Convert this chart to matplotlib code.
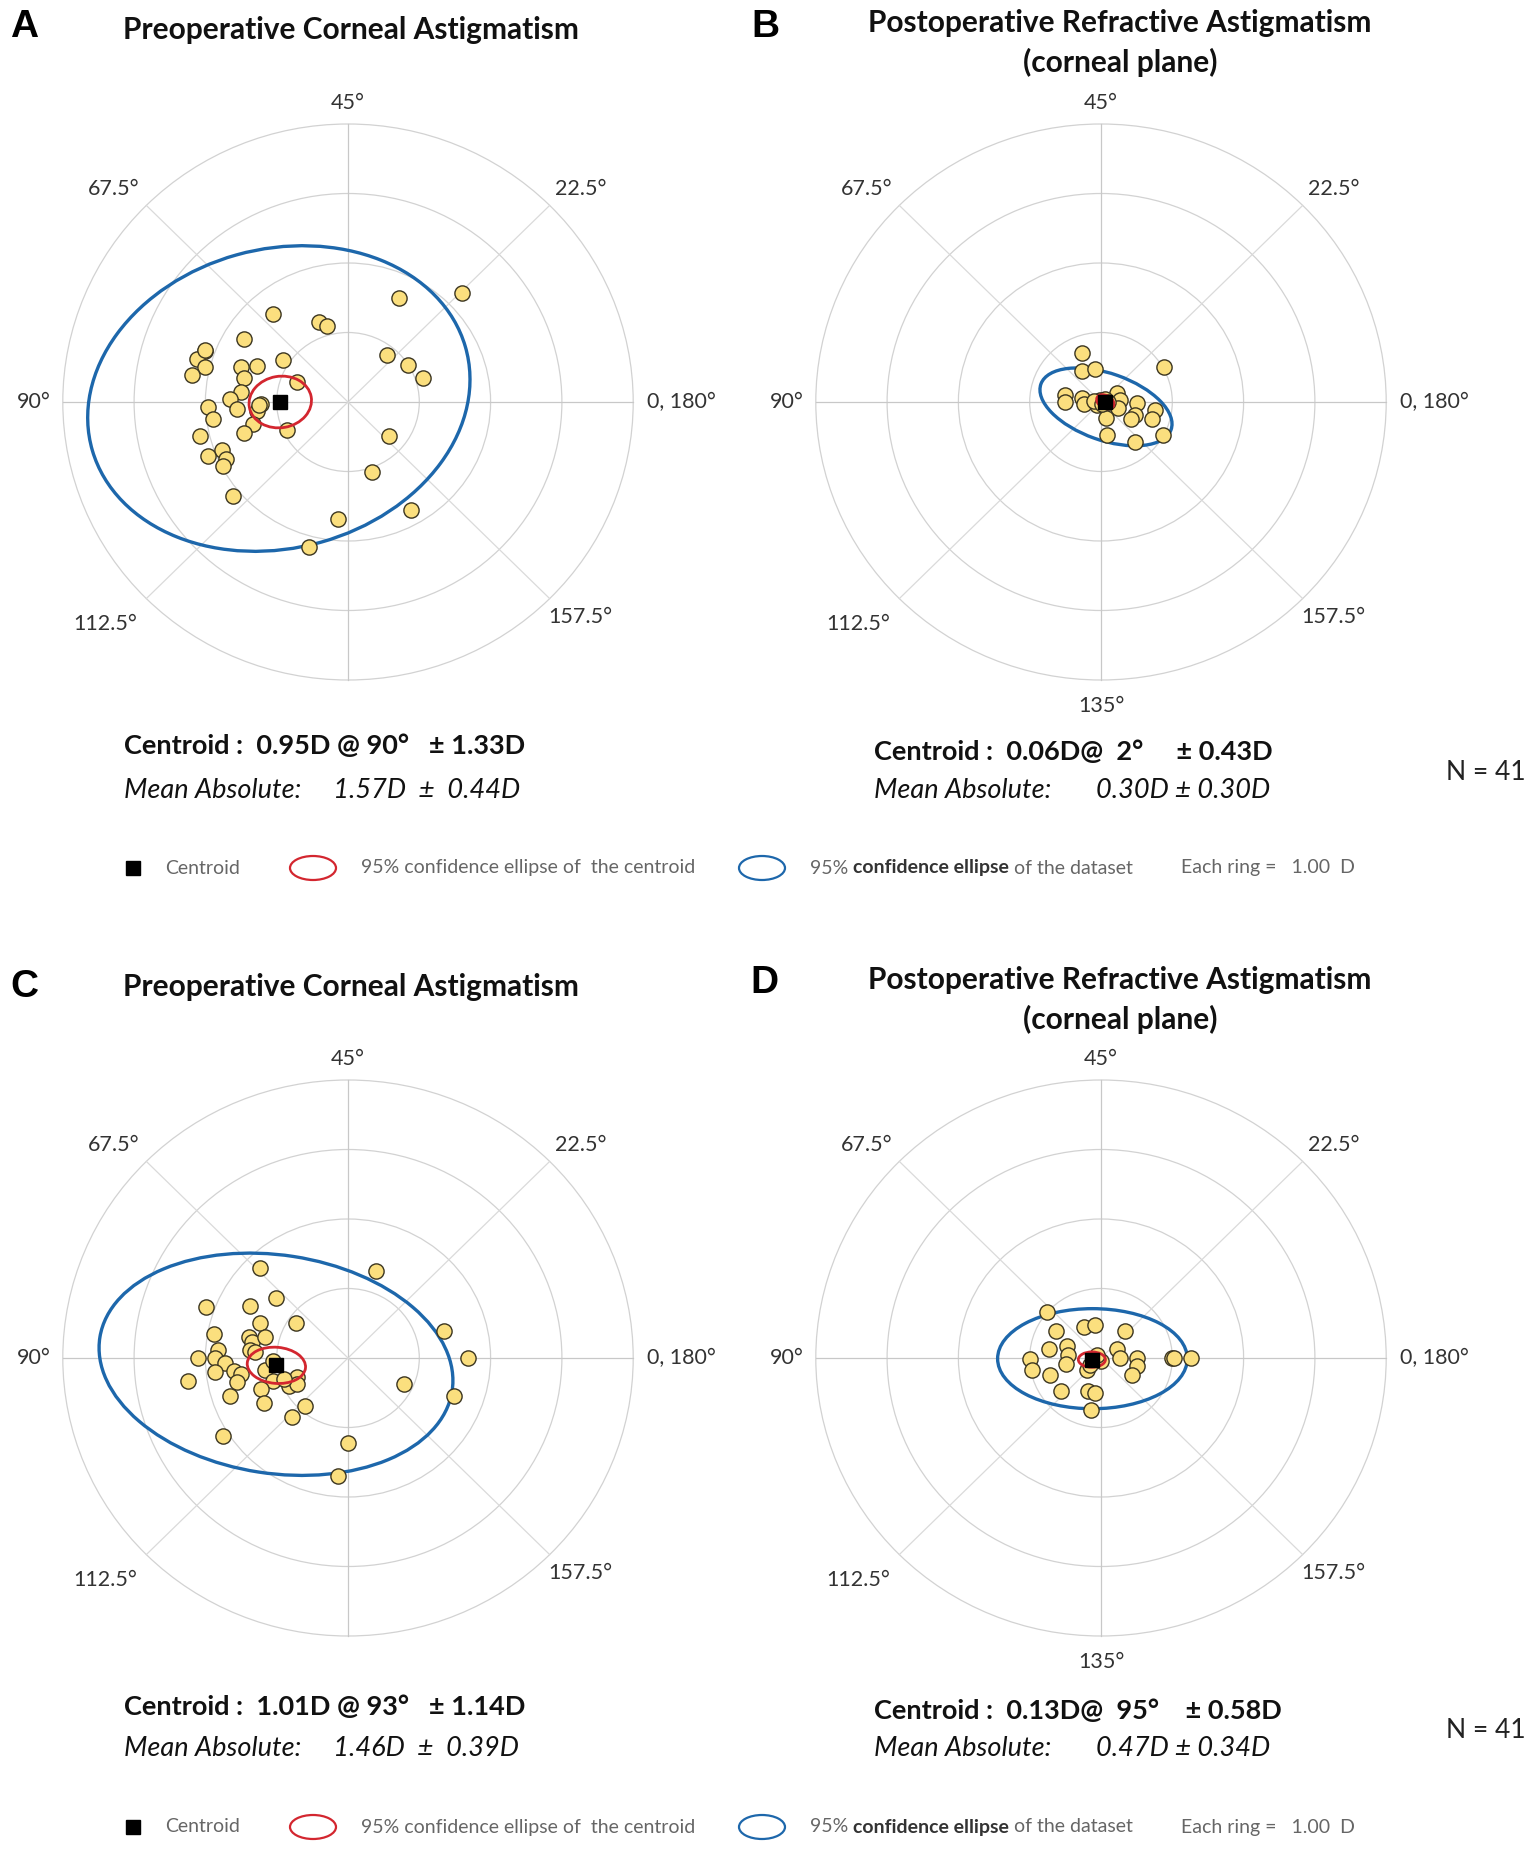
import numpy as np
import matplotlib
matplotlib.use("Agg")
import matplotlib.pyplot as plt
from matplotlib.patches import Ellipse, Circle

plt.rcParams["font.family"] = ["Lato", "DejaVu Sans"]

W, H = 1535, 1853
PX_X, PX_Y = 71.3, 69.5      # pixels per dioptre (reference is slightly squashed)
LIM = 4.8

# ---- data (double-angle plot, x/y in dioptres) ----
a_x = [1.60, 0.72, -1.05, -0.41, -0.29, -1.46, -2.01, -2.12, -2.01, -2.19, -1.50, -1.28,
       -0.91, -1.46, -0.71, -1.50, -1.65, -1.22, -1.55, -1.97, -1.90, -1.28, -1.33, -1.46,
       -0.85, -2.07, -1.77, -1.96, -1.71, -1.75, -1.61, 0.55, 0.84, 1.05, 0.58, 0.33,
       -0.14, 0.89, -0.54, -1.25, -2.00]
a_y = [1.57, 1.50, 1.26, 1.15, 1.09, 0.91, 0.73, 0.62, 0.50, 0.39, 0.50, 0.52,
       0.61, 0.35, 0.29, 0.15, 0.05, -0.03, -0.10, -0.07, -0.25, -0.13, -0.31, -0.45,
       -0.40, -0.49, -0.69, -0.77, -0.82, -0.92, -1.35, 0.68, 0.53, 0.35, -0.49, -1.00,
       -1.69, -1.55, -2.09, -0.05, 0.75]

b_x = [-0.26, -0.27, -0.08, 0.88, -0.51, -0.51, -0.26, -0.24, 0.22, 0.26, 0.24, 0.07,
       0.50, 0.76, 0.48, 0.42, 0.71, 0.09, 0.48, 0.87, -0.01, 0.05, -0.05, 0.10,
       -0.10, 0.02]
b_y = [0.71, 0.45, 0.48, 0.51, 0.10, 0.00, 0.06, -0.03, 0.13, 0.03, -0.09, -0.23,
       -0.01, -0.12, -0.18, -0.25, -0.25, -0.47, -0.57, -0.47, 0.03, 0.05, -0.05, 0.00,
       0.02, -0.03]

c_x = [-1.24, 0.39, -1.01, -1.99, -1.38, -0.73, -1.24, -1.88, -1.39, -1.35, -1.17, -1.82,
       -1.37, -2.11, -1.87, -1.73, -1.87, -1.60, -1.50, -1.56, -2.24, -1.16, -1.05, -1.22,
       -1.66, -1.18, -0.83, -0.72, -0.71, -0.61, -0.79, -1.75, 0.00, -0.14, 0.78, 1.35,
       1.68, 1.49, -1.05, -1.30, -0.90]
c_y = [1.30, 1.25, 0.87, 0.73, 0.75, 0.50, 0.51, 0.34, 0.30, 0.23, 0.30, 0.11,
       0.11, 0.00, 0.00, -0.07, -0.20, -0.18, -0.23, -0.35, -0.33, -0.17, -0.33, -0.45,
       -0.55, -0.65, -0.40, -0.27, -0.37, -0.69, -0.85, -1.12, -1.23, -1.70, -0.37, 0.39,
       0.00, -0.55, -0.05, 0.08, -0.30]

d_x = [-0.76, -0.63, -0.24, -0.08, 0.34, -0.48, -0.73, -0.46, -0.49, -1.00, -0.97, -0.71,
       -0.56, -0.18, -0.08, -0.14, -0.20, 0.22, 0.26, 0.51, 0.51, 0.43, 1.00, 1.26,
       1.02, -0.10, 0.00, -0.15, -0.05]
d_y = [0.66, 0.39, 0.45, 0.48, 0.39, 0.17, 0.13, 0.05, -0.09, -0.01, -0.17, -0.25,
       -0.47, -0.47, -0.50, -0.75, -0.17, 0.13, 0.00, 0.00, -0.11, -0.25, 0.00, 0.00,
       0.00, 0.00, -0.05, -0.10, 0.05]

# centroid magnitude (D) and axis (deg)
centroid_mag = [0.95, 0.06, 1.01, 0.13]
centroid_axis = [90, 2, 93, 95]
# 95% ellipse of the centroid: half-width, half-height, tilt
cent_ell = [(0.44, 0.37, 10), (0.13, 0.09, -30), (0.41, 0.26, -5), (0.19, 0.11, 0)]
# 95% ellipse of the dataset: centre x, centre y, half-width, half-height, tilt
data_ell = [(-0.97, 0.05, 2.72, 2.15, 16), (0.07, -0.07, 0.97, 0.48, -20),
            (-1.01, -0.09, 2.50, 1.57, -9), (-0.12, -0.01, 1.33, 0.72, 0)]

letters = ["A", "B", "C", "D"]
titles = ["Preoperative Corneal Astigmatism",
          "Postoperative Refractive Astigmatism\n(corneal plane)",
          "Preoperative Corneal Astigmatism",
          "Postoperative Refractive Astigmatism\n(corneal plane)"]
centroid_lines = ["Centroid :  0.95D @ 90°   ± 1.33D",
                  "Centroid :  0.06D@  2°     ± 0.43D",
                  "Centroid :  1.01D @ 93°   ± 1.14D",
                  "Centroid :  0.13D@  95°    ± 0.58D"]
mean_lines = ["Mean Absolute:     1.57D  ±  0.44D",
              "Mean Absolute:       0.30D ± 0.30D",
              "Mean Absolute:     1.46D  ±  0.39D",
              "Mean Absolute:       0.47D ± 0.34D"]
n_label = "N = 41"
ring_label = "Each ring =   1.00  D"
angle_labels = [("45°", 0.0, 4.30, "center"), ("67.5°", -3.28, 3.06, "center"),
                ("22.5°", 3.26, 3.06, "center"), ("90°", -4.40, 0.0, "center"),
                ("0, 180°", 4.20, 0.0, "left"), ("112.5°", -3.40, -3.20, "center"),
                ("157.5°", 3.26, -3.09, "center")]
bottom_label = ("135°", 0.0, -4.38, "center")

panel_x = [348, 1101, 348, 1101]
panel_y = [402, 402, 1358, 1358]

fig = plt.figure(figsize=(W / 100, H / 100), dpi=100)
fig.patch.set_facecolor("white")

xs = [a_x, b_x, c_x, d_x]
ys = [a_y, b_y, c_y, d_y]

for i in range(4):
    cx, cy = panel_x[i], panel_y[i]
    hw, hh = LIM * PX_X, LIM * PX_Y
    ax = fig.add_axes([(cx - hw) / W, 1 - (cy + hh) / H, 2 * hw / W, 2 * hh / H])
    ax.set_xlim(-LIM, LIM)
    ax.set_ylim(-LIM, LIM)
    ax.axis("off")

    for r in [1, 2, 3, 4]:
        ax.add_patch(Circle((0, 0), r, fill=False, ec="#d2d2d2", lw=0.9, zorder=1))
    for ang in range(0, 360, 45):
        t = np.deg2rad(ang)
        col = "#c8c8c8" if ang % 90 == 0 else "#dadada"
        ax.plot([0, 4 * np.cos(t)], [0, 4 * np.sin(t)], color=col, lw=0.9, zorder=1)

    labs = angle_labels + ([bottom_label] if i % 2 == 1 else [])
    for txt, lx, ly, ha in labs:
        ax.text(lx, ly, txt, ha=ha, va="center", fontsize=15.5, color="#333333",
                clip_on=False)

    ecx, ecy, ea, eb, et = data_ell[i]
    ax.add_patch(Ellipse((ecx, ecy), 2 * ea, 2 * eb, angle=et, fill=False,
                         ec="#1d67ab", lw=2.4, zorder=3))

    ax.scatter(xs[i], ys[i], s=120, c="#fbdf7e", edgecolors="#3b3520",
               linewidths=1.0, zorder=4)

    th = np.deg2rad(2 * centroid_axis[i])
    mx, my = centroid_mag[i] * np.cos(th), centroid_mag[i] * np.sin(th)
    ca, cb, ct = cent_ell[i]
    ax.add_patch(Ellipse((mx, my), 2 * ca, 2 * cb, angle=ct, fill=False,
                         ec="#d3262f", lw=2.0, zorder=5))
    ax.plot([mx], [my], marker="s", ms=10.5, color="black", zorder=6)

# overlay in pixel coordinates for all the text blocks
ov = fig.add_axes([0, 0, 1, 1])
ov.set_xlim(0, W)
ov.set_ylim(H, 0)
ov.axis("off")
ov.patch.set_alpha(0)

letter_pos = [(10, 27), (751, 27), (10, 987), (750, 983)]
title_pos = [(351, 30), (1120, 43), (351, 987), (1120, 1000)]
text_pos = [(124, 746, 790), (874, 752, 790), (124, 1707, 1749), (874, 1711, 1749)]
n_pos = [None, (1486, 772), None, (1486, 1731)]

for i in range(4):
    ov.text(*letter_pos[i], letters[i], fontsize=28, fontweight="bold",
            family=["Liberation Sans", "DejaVu Sans"], ha="left", va="center")
    ov.text(*title_pos[i], titles[i], fontsize=21.5, fontweight="bold", ha="center",
            va="center", linespacing=1.45, color="#111111")
    tx, ty1, ty2 = text_pos[i]
    ov.text(tx, ty1, centroid_lines[i], fontsize=19.5, fontweight="bold",
            ha="left", va="center", color="#111111")
    ov.text(tx, ty2, mean_lines[i], fontsize=19.5, style="italic",
            ha="left", va="center", color="#111111")
    if n_pos[i]:
        ov.text(*n_pos[i], n_label, fontsize=19, ha="center", va="center", color="#222222")

renderer = fig.canvas.get_renderer()
for ly in [868, 1827]:
    ov.plot([133], [ly], marker="s", ms=10, color="black")
    ov.text(165, ly, "Centroid", fontsize=14, color="#666666", ha="left", va="center")
    ov.add_patch(Ellipse((313, ly), 46, 24, fill=False, ec="#d3262f", lw=1.6))
    ov.text(361, ly, "95% confidence ellipse of  the centroid", fontsize=14,
            color="#666666", ha="left", va="center")
    ov.add_patch(Ellipse((762, ly), 46, 24, fill=False, ec="#1d67ab", lw=1.6))
    x0 = 810
    for piece, wt, col in [("95% ", "normal", "#666666"),
                           ("confidence ellipse", "bold", "#333333"),
                           (" of the dataset", "normal", "#666666")]:
        t = ov.text(x0, ly, piece, fontsize=14, fontweight=wt, color=col,
                    ha="left", va="center")
        bb = t.get_window_extent(renderer=renderer)
        x0 += bb.width
    ov.text(1181, ly, ring_label, fontsize=14, color="#666666", ha="left", va="center")

fig.savefig("out.png", dpi=100)
